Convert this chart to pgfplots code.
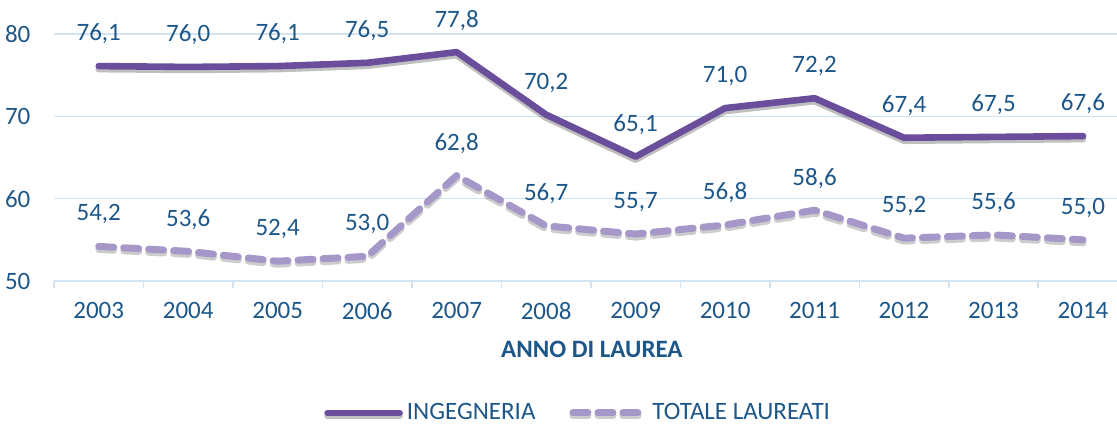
\documentclass[border=0pt]{standalone}
\usepackage{pgfplots}
\pgfplotsset{compat=1.18}
\usepackage{fontspec}
\setmainfont{Carlito}
\definecolor{txt}{HTML}{1D5789}
\definecolor{ing}{HTML}{6A4E9B}
\definecolor{tot}{HTML}{A697C9}
\definecolor{grd}{HTML}{D0E4F4}
\begin{document}
\begin{tikzpicture}
\path[use as bounding box] (0,0) rectangle (558.5pt,-213pt);
\begin{axis}[
  at={(27pt,-140.5pt)}, anchor=south west,
  scale only axis, width=531.5pt, height=123.5pt,
  xmin=-0.5, xmax=11.38, ymin=50, ymax=80,
  clip=false,
  /pgf/number format/assume math mode=true,
  axis x line*=bottom, axis y line*=left,
  x axis line style={draw=grd, line width=0.8pt, -},
  y axis line style={draw=none},
  xtick={0,...,11},
  xticklabels={2003,2004,2005,2006,2007,2008,2009,2010,2011,2012,2013,2014},
  minor xtick={-0.5,0.5,...,11.5},
  major x tick style={draw=none},
  minor x tick style={draw=grd, line width=0.8pt},
  minor tick length=3.5pt,
  tick align=outside,
  ytick={50,60,70,80},
  yticklabels={50,60,70,80},
  ytick style={draw=none},
  ymajorgrids, grid style={draw=grd, line width=0.8pt},
  tick label style={font=\fontsize{12.5}{14}\selectfont, text=txt},
  xticklabel style={yshift=-3pt},
  yticklabel style={xshift=-4pt},
  xlabel={\textbf{ANNO DI LAUREA}},
  xlabel style={font=\fontsize{12.5}{14}\selectfont, text=txt, at={(axis description cs:0.506,0)}, anchor=center, yshift=-34pt},
  legend columns=2,
  legend style={draw=none, fill=none, at={(axis description cs:0.494,-0.534)}, anchor=center,
    font=\fontsize{12.5}{14}\selectfont, text=txt,
    /tikz/every even column/.append style={column sep=15pt}},
  legend image code/.code={\draw[#1] (0pt,0pt) -- (36pt,0pt);},
  point meta=y,
  nodes near coords={\pgfmathprintnumber[fixed,fixed zerofill,precision=1,use comma,assume math mode=true]{\pgfplotspointmeta}},
  nodes near coords style={font=\fontsize{12.5}{14}\selectfont, text=txt, anchor=center, yshift=16pt},
]
\addplot[color=ing, line width=3.3pt, line cap=round, line join=round,
  preaction={draw=black, opacity=0.25, transform canvas={yshift=-1.5pt}}]
  coordinates {(0,76.1) (1,76.0) (2,76.1) (3,76.5) (4,77.8) (5,70.2) (6,65.1) (7,71.0) (8,72.2) (9,67.4) (10,67.5) (11,67.6)};
\addlegendentry{INGEGNERIA}
\addplot[color=tot, line width=3.5pt, line cap=round, line join=round, dash pattern=on 7.5pt off 5pt,
  preaction={draw=black, opacity=0.2, transform canvas={yshift=-1.5pt}}]
  coordinates {(0,54.2) (1,53.6) (2,52.4) (3,53.0) (4,62.8) (5,56.7) (6,55.7) (7,56.8) (8,58.6) (9,55.2) (10,55.6) (11,55.0)};
\addlegendentry{TOTALE LAUREATI}
\end{axis}
\end{tikzpicture}
\end{document}
